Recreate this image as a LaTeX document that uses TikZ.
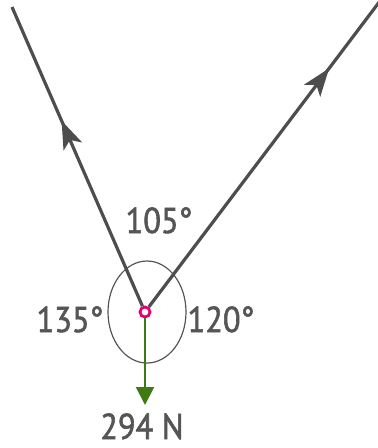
\documentclass[tikz,border=0pt]{standalone}
\usepackage{fontspec}
\newfontfamily\labfont[FakeStretch=0.9,FakeBold=1.6]{PT Sans}
\usetikzlibrary{arrows.meta,decorations.markings,shapes.geometric}
\definecolor{linegray}{HTML}{4D4D4D}
\definecolor{textgray}{HTML}{555555}
\definecolor{pinkring}{HTML}{E6006E}
\definecolor{forcegreen}{HTML}{3F7A12}
\begin{document}
\begin{tikzpicture}[x=1pt,y=-1pt,
  rope/.style={draw=linegray,line width=3.2pt},
  midarrow/.style={postaction={decorate},decoration={markings,
     mark=at position #1 with {\arrow{Stealth[length=28pt,width=20pt,inset=7pt,linegray]}}}},
  lab/.style={text=textgray,font=\labfont\fontsize{36}{40}\selectfont,inner sep=0pt,anchor=base}]
\useasboundingbox (0,0) rectangle (378,448);
\node (ring) [ellipse,draw=textgray,line width=1.2pt,minimum width=78pt,minimum height=102pt,inner sep=0pt] at (147,312) {};
\node (O) [circle,draw=pinkring,line width=2.8pt,fill=white,minimum size=10pt,inner sep=0pt] at (145,312) {};
\coordinate (L) at (12,7);
\coordinate (R) at (380,1);
\coordinate (F) at (145,405);
\draw[rope,midarrow=0.62] (O) -- (L);
\draw[rope,midarrow=0.78] (O) -- (R);
\draw[draw=forcegreen,line width=2pt,-{Triangle[length=18pt,width=18pt]}] (O.south) -- (F);
\node (a105) [lab] at (159,233) {105°};
\node (a135) [lab] at (70,332) {135°};
\node (a120) [lab] at (221,332) {120°};
\node (w) [lab] at (142,439) {294 N};
\end{tikzpicture}
\end{document}
